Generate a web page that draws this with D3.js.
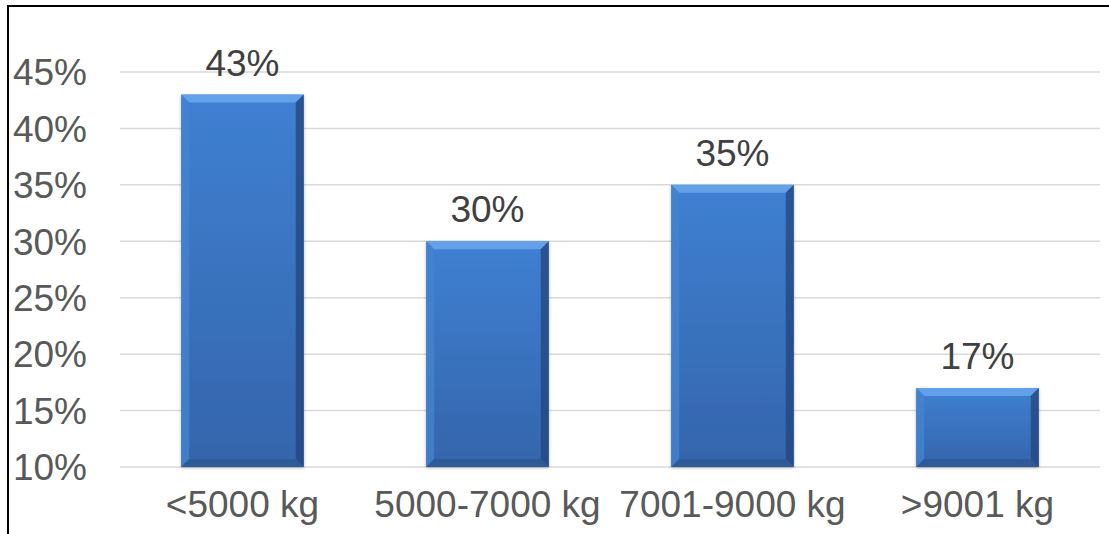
<!DOCTYPE html>
<html>
<head>
<meta charset="utf-8">
<script src="https://cdn.jsdelivr.net/npm/d3@7"></script>
<style>
  body { margin: 0; background: #fff; }
  svg { display: block; font-family: "Liberation Sans", Arial, sans-serif; }
</style>
</head>
<body>
<div id="chart"></div>
<script>
// Data
const categories = ["<5000 kg", "5000-7000 kg", "7001-9000 kg", ">9001 kg"];
const shares = [43, 30, 35, 17];
const yTicks = [10, 15, 20, 25, 30, 35, 40, 45];

// Dimensions
const width = 1109;
const height = 534;
const margin = { top: 72, right: 9, bottom: 67, left: 120 };

const svg = d3.select("#chart")
  .append("svg")
  .attr("width", width)
  .attr("height", height);

// frame (only left and top show inside the window)
svg.append("line")
  .attr("x1", 8).attr("y1", 6).attr("x2", 8).attr("y2", height)
  .attr("stroke", "#000").attr("stroke-width", 2);
svg.append("line")
  .attr("x1", 7).attr("y1", 6).attr("x2", width).attr("y2", 6)
  .attr("stroke", "#000").attr("stroke-width", 2);

// Scales
const x = d3.scaleBand()
  .domain(categories)
  .range([margin.left, width - margin.right])
  .paddingInner(0.5)
  .paddingOuter(0.25);

const y = d3.scaleLinear()
  .domain([10, 45])
  .range([height - margin.bottom, margin.top]);

// gridlines
svg.append("g")
  .selectAll("line")
  .data(yTicks)
  .enter()
  .append("line")
  .attr("x1", margin.left)
  .attr("x2", width - margin.right)
  .attr("y1", d => y(d))
  .attr("y2", d => y(d))
  .attr("stroke", "#d9d9d9")
  .attr("stroke-width", 1.5);

// y tick labels
svg.append("g")
  .selectAll("text")
  .data(yTicks)
  .enter()
  .append("text")
  .attr("x", 87)
  .attr("y", d => y(d))
  .attr("dy", "0.36em")
  .attr("text-anchor", "end")
  .style("font-size", "37px")
  .style("fill", "#595959")
  .text(d => d + "%");

// gradients
const defs = svg.append("defs");
const face = defs.append("linearGradient")
  .attr("id", "face").attr("x1", 0).attr("y1", 0).attr("x2", 0).attr("y2", 1);
face.append("stop").attr("offset", "0%").attr("stop-color", "#3f80d2");
face.append("stop").attr("offset", "100%").attr("stop-color", "#3465ab");

const shadow = defs.append("filter").attr("id", "shadow")
  .attr("x", "-10%").attr("y", "-10%").attr("width", "120%").attr("height", "120%");
shadow.append("feDropShadow")
  .attr("dx", 0).attr("dy", 1).attr("stdDeviation", 1.5)
  .attr("flood-color", "#000").attr("flood-opacity", 0.3);

// bars with bevel
const bev = 8;
const bars = svg.append("g")
  .selectAll("g")
  .data(shares)
  .enter()
  .append("g")
  .attr("filter", "url(#shadow)");

bars.append("rect")
  .attr("x", (d, i) => x(categories[i]))
  .attr("y", d => y(d))
  .attr("width", x.bandwidth())
  .attr("height", d => y(10) - y(d))
  .attr("fill", "url(#face)");

function bevel(d, i, side) {
  const x0 = x(categories[i]), x1 = x0 + x.bandwidth();
  const y0 = y(d), y1 = y(10);
  if (side === "top") return [[x0, y0], [x1, y0], [x1 - bev, y0 + bev], [x0 + bev, y0 + bev]];
  if (side === "left") return [[x0, y0], [x0 + bev, y0 + bev], [x0 + bev, y1 - bev], [x0, y1]];
  if (side === "right") return [[x1, y0], [x1, y1], [x1 - bev, y1 - bev], [x1 - bev, y0 + bev]];
  return [[x0, y1], [x0 + bev, y1 - bev], [x1 - bev, y1 - bev], [x1, y1]];
}

const bevelFill = { top: "#6ea9ef", left: "#4583cf", right: "#24497f", bottom: "#2d5894" };
["top", "left", "right", "bottom"].forEach(side => {
  bars.append("polygon")
    .attr("points", (d, i) => bevel(d, i, side).map(p => p.join(",")).join(" "))
    .attr("fill", bevelFill[side])
    .attr("opacity", 0.8);
});

// value labels
svg.append("g")
  .selectAll("text")
  .data(shares)
  .enter()
  .append("text")
  .attr("x", (d, i) => x(categories[i]) + x.bandwidth() / 2)
  .attr("y", d => y(d) - 19)
  .attr("text-anchor", "middle")
  .style("font-size", "37px")
  .style("fill", "#404040")
  .text(d => d + "%");

// x labels
svg.append("g")
  .selectAll("text")
  .data(categories)
  .enter()
  .append("text")
  .attr("x", d => x(d) + x.bandwidth() / 2)
  .attr("y", 517)
  .attr("text-anchor", "middle")
  .style("font-size", "37px")
  .style("fill", "#595959")
  .text(d => d);
</script>
</body>
</html>
